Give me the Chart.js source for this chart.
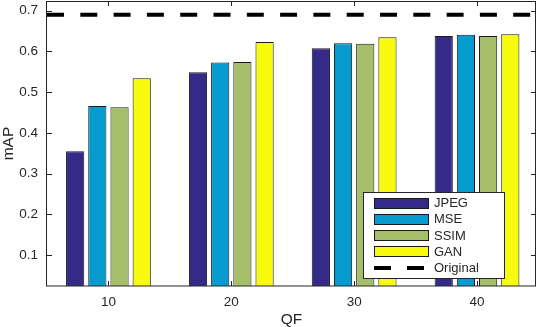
<!DOCTYPE html>
<html>
<head>
<meta charset="utf-8">
<script src="https://cdn.jsdelivr.net/npm/chart.js@4/dist/chart.umd.min.js"></script>
<style>
  html, body { margin: 0; padding: 0; background: #ffffff; }
  #wrap { width: 539px; height: 327px; }
</style>
</head>
<body>
<div id="wrap"><canvas id="c" width="539" height="327"></canvas></div>
<script>
// ---- data ----
const categories = [10, 20, 30, 40];
const jpeg = [0.355, 0.549, 0.608, 0.638];
const mse  = [0.466, 0.573, 0.620, 0.641];
const ssim = [0.463, 0.574, 0.619, 0.638];
const gan  = [0.534, 0.623, 0.635, 0.642];
const original = 0.690;
const yTicks = [0.1, 0.2, 0.3, 0.4, 0.5, 0.6, 0.7];
const xTicks = [10, 20, 30, 40];
const seriesNames = ['JPEG', 'MSE', 'SSIM', 'GAN', 'Original'];

// ---- axis ranges ----
const X_MIN = 5.0, X_MAX = 44.8;
const Y_MIN = 0.0238, Y_MAX = 0.7238;

const FONT = '"Liberation Sans", Arial, Helvetica, sans-serif';
const TXT = '#262626';

function pts(vals) { return categories.map((c, i) => ({ x: c, y: vals[i] })); }

function barDs(label, vals, color) {
  return {
    type: 'bar', label, data: pts(vals),
    backgroundColor: color, borderColor: '#1a1a1a', borderWidth: 1, borderSkipped: false,
    categoryPercentage: 0.7225, barPercentage: 0.82, order: 2
  };
}

const datasets = [
  barDs(seriesNames[0], jpeg, '#352A87'),
  barDs(seriesNames[1], mse,  '#059BCE'),
  barDs(seriesNames[2], ssim, '#A5BE6A'),
  barDs(seriesNames[3], gan,  '#F9FB0E'),
  {
    type: 'line', label: seriesNames[4],
    data: [{ x: X_MIN, y: original }, { x: X_MAX, y: original }],
    borderColor: '#000000', borderWidth: 4, borderDash: [17, 16.3],
    borderCapStyle: 'butt', pointRadius: 0, fill: false, order: 1
  }
];

function noPad(s) { s.paddingTop = 0; s.paddingBottom = 0; s.paddingLeft = 0; s.paddingRight = 0; }

const boxPlugin = {
  id: 'boxPlugin',
  afterDraw(chart) {
    const ctx = chart.ctx, a = chart.chartArea;
    const xs = chart.scales.x, ys = chart.scales.y;
    ctx.save();
    ctx.strokeStyle = TXT;
    ctx.lineWidth = 1;
    // inward ticks
    ctx.beginPath();
    xs.ticks.forEach(t => {
      const px = Math.round(xs.getPixelForValue(t.value)) + 0.5;
      ctx.moveTo(px, a.bottom); ctx.lineTo(px, a.bottom - 5);
      ctx.moveTo(px, a.top); ctx.lineTo(px, a.top + 5);
    });
    ys.ticks.forEach(t => {
      const py = Math.round(ys.getPixelForValue(t.value)) + 0.5;
      ctx.moveTo(a.left, py); ctx.lineTo(a.left + 5, py);
      ctx.moveTo(a.right, py); ctx.lineTo(a.right - 5, py);
    });
    ctx.stroke();
    // box
    ctx.strokeRect(a.left - 0.5, a.top + 0.5, a.right - a.left, a.bottom - a.top - 0.5);

    // legend inside plot (bottom-right)
    const bw = 141, bh = 86;
    const bx = a.right - 32 - bw, by = a.bottom - 8 - bh;
    ctx.fillStyle = '#ffffff';
    ctx.fillRect(bx, by, bw, bh);
    ctx.strokeStyle = TXT;
    ctx.strokeRect(bx + 0.5, by + 0.5, bw, bh);
    ctx.font = '13px ' + FONT;
    ctx.textBaseline = 'middle';
    ctx.textAlign = 'left';
    chart.data.datasets.forEach((ds, i) => {
      const cy = by + 11 + i * 16.3;
      const sx = bx + 11;
      if (ds.type === 'bar') {
        ctx.fillStyle = ds.backgroundColor;
        ctx.fillRect(sx, Math.round(cy - 5.5), 55, 11);
        ctx.strokeStyle = ds.borderColor;
        ctx.strokeRect(sx + 0.5, Math.round(cy - 5.5) + 0.5, 54, 10);
      } else {
        ctx.fillStyle = '#000000';
        ctx.fillRect(sx, Math.round(cy - 2), 17, 4);
        ctx.fillRect(sx + 33, Math.round(cy - 2), 17, 4);
      }
      ctx.fillStyle = TXT;
      ctx.fillText(ds.label, bx + 71, cy + 0.5);
    });
    ctx.restore();
  }
};

new Chart(document.getElementById('c'), {
  type: 'bar',
  data: { datasets },
  plugins: [boxPlugin],
  options: {
    responsive: false,
    animation: false,
    devicePixelRatio: 1,
    layout: { padding: { left: 0, right: 3, top: 1, bottom: 0 } },
    plugins: { legend: { display: false }, tooltip: { enabled: false } },
    scales: {
      x: {
        type: 'linear', min: X_MIN, max: X_MAX, offset: false,
        grid: { display: false, drawTicks: false },
        border: { display: false },
        afterBuildTicks: s => { s.ticks = xTicks.map(v => ({ value: v })); },
        afterFit: s => { s.height = 41; noPad(s); },
        ticks: {
          color: TXT, padding: 8, maxRotation: 0,
          font: { family: FONT, size: 13.5 },
          callback: v => String(v)
        },
        title: {
          display: true, text: 'QF', color: TXT,
          font: { family: FONT, size: 15.5, lineHeight: 1 },
          padding: { top: 0, bottom: 0 }
        }
      },
      y: {
        type: 'linear', min: Y_MIN, max: Y_MAX,
        grid: { display: false, drawTicks: false },
        border: { display: false },
        afterBuildTicks: s => { s.ticks = yTicks.map(v => ({ value: v })); },
        afterFit: s => { s.width = 47; noPad(s); },
        ticks: {
          color: TXT, padding: 9,
          font: { family: FONT, size: 13.5 },
          callback: v => Number(v).toFixed(1)
        },
        title: {
          display: true, text: 'mAP', color: TXT,
          font: { family: FONT, size: 15.5, lineHeight: 1.1 },
          padding: { top: 0, bottom: 0 }
        }
      }
    }
  }
});
</script>
</body>
</html>
